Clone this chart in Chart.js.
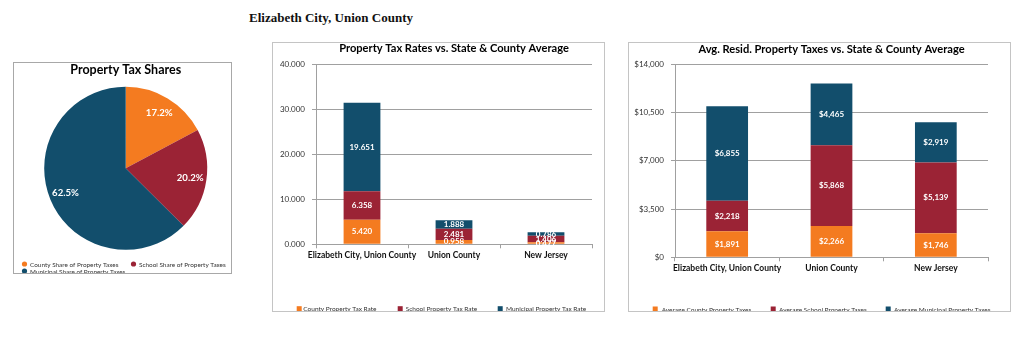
<!DOCTYPE html>
<html>
<head>
<meta charset="utf-8">
<script src="https://cdn.jsdelivr.net/npm/chart.js@4.4.1/dist/chart.umd.min.js"></script>
<style>
  body { margin: 0; background: #fff; width: 1024px; height: 338px; position: relative; overflow: hidden; font-family: Lato, sans-serif; }
  .box { position: absolute; border: 1px solid #c4c4c4; box-sizing: border-box; background: #fff; }
  .box canvas { display: block; }
  #pageTitle { position: absolute; left: 249px; top: 10px; font: bold 13px "Liberation Serif", serif; color: #111; line-height: 16px; }
</style>
</head>
<body>
<div id="pageTitle">Elizabeth City, Union County</div>
<div class="box" style="left:13px;top:62px;width:219px;height:212px;border-color:#a8a8a8"><canvas id="pieChart" width="217" height="210"></canvas></div>
<div class="box" style="left:272px;top:42px;width:333px;height:270px"><canvas id="rateChart" width="331" height="268"></canvas></div>
<div class="box" style="left:628px;top:42px;width:383px;height:270px"><canvas id="taxChart" width="381" height="268"></canvas></div>

<script>
const COLORS = ["#f47b20", "#9b2335", "#124e6c"];

// pie
const shareLabels = ["County Share of Property Taxes", "School Share of Property Taxes", "Municipal Share of Property Taxes"];
const shareValues = [17.2, 20.2, 62.5];

// bars
const places = ["Elizabeth City, Union County", "Union County", "New Jersey"];

const rateSeries = ["County Property Tax Rate", "School Property Tax Rate", "Municipal Property Tax Rate"];
const countyRate = [5.420, 0.958, 0.477];
const schoolRate = [6.358, 2.481, 1.406];
const municipalRate = [19.651, 1.888, 0.786];
const rateTicks = [0, 10, 20, 30, 40];

const taxSeries = ["Average County Property Taxes", "Average School Property Taxes", "Average Municipal Property Taxes"];
const countyTax = [1891, 2266, 1746];
const schoolTax = [2218, 5868, 5139];
const municipalTax = [6855, 4465, 2919];
const taxTicks = [0, 3500, 7000, 10500, 14000];

const fmtRate = (v) => Number(v).toFixed(3);
const fmtMoney = (v) => "$" + Number(v).toLocaleString("en-US");

// title, legend and value labels drawn per chart (kept out of chart options so nothing gets resolved as scriptable)
function makeDecor(cfg) {
  return {
    id: "decor",
    afterDatasetsDraw(chart) {
      const ctx = chart.ctx;
      const area = chart.chartArea;
      ctx.save();

      ctx.fillStyle = "#fff";
      ctx.font = `bold ${cfg.labelSize}px Lato`;
      ctx.textAlign = "center";
      ctx.textBaseline = "middle";
      chart.data.datasets.forEach((ds, i) => {
        chart.getDatasetMeta(i).data.forEach((el, j) => {
          let x, y;
          if (el.outerRadius !== undefined) {
            const a = (el.startAngle + el.endAngle) / 2;
            const r = el.outerRadius * cfg.labelRadius;
            x = el.x + Math.cos(a) * r;
            y = el.y + Math.sin(a) * r;
          } else {
            x = el.x;
            y = (el.y + el.base) / 2;
          }
          ctx.fillText(cfg.format(ds.data[j]), x, y);
        });
      });

      ctx.fillStyle = "#000";
      ctx.font = `bold ${cfg.titleSize}px Lato`;
      ctx.fillText(cfg.title, (area.left + area.right) / 2, cfg.titleY);

      ctx.font = `${cfg.legendSize}px Lato`;
      ctx.textAlign = "left";
      cfg.legend.forEach((it) => {
        ctx.fillStyle = it.color;
        if (cfg.legendShape === "circle") {
          ctx.beginPath();
          ctx.arc(it.x + 2.5, it.y, 2.6, 0, Math.PI * 2);
          ctx.fill();
        } else {
          ctx.fillRect(it.x, it.y - 2.5, 5, 5);
        }
        ctx.fillStyle = "#333";
        ctx.fillText(it.text, it.tx, it.y + 0.5);
      });
      ctx.restore();
    },
  };
}

new Chart(document.getElementById("pieChart"), {
  type: "pie",
  data: {
    labels: shareLabels,
    datasets: [{ data: shareValues, backgroundColor: COLORS, borderWidth: 0 }],
  },
  options: {
    responsive: false,
    animation: false,
    layout: { padding: { left: 30.2, right: 23.8, top: 23.8, bottom: 23.2 } },
    plugins: { legend: { display: false }, tooltip: { enabled: false } },
  },
  plugins: [makeDecor({
    title: "Property Tax Shares", titleSize: 12.5, titleY: 6.5,
    labelSize: 9.6, labelRadius: 0.8, format: (v) => v.toFixed(1) + "%",
    legendSize: 6.4, legendShape: "circle",
    legend: [
      { text: shareLabels[0], color: COLORS[0], x: 8, tx: 16, y: 201 },
      { text: shareLabels[1], color: COLORS[1], x: 117, tx: 125, y: 201 },
      { text: shareLabels[2], color: COLORS[2], x: 8, tx: 16, y: 208 },
    ],
  })],
});

function barOptions(ticks, fmt, yWidth, padding) {
  return {
    responsive: false,
    animation: false,
    layout: { padding },
    plugins: { legend: { display: false }, tooltip: { enabled: false } },
    scales: {
      x: {
        stacked: true,
        grid: { drawOnChartArea: false, tickLength: 4, color: "#a0a0a0" },
        border: { color: "#a0a0a0" },
        ticks: {
          maxRotation: 0, minRotation: 0, autoSkip: false, padding: 2,
          color: "#111", font: { family: "Lato", weight: "bold", size: 8.5 },
        },
        afterFit: (s) => { s.height = 20; },
      },
      y: {
        stacked: true,
        min: ticks[0],
        max: ticks[ticks.length - 1],
        grid: { color: "#a0a0a0", tickLength: 4 },
        border: { color: "#a0a0a0" },
        ticks: {
          stepSize: ticks[1] - ticks[0], padding: 7,
          color: "#333", font: { family: "Lato", size: 8 },
          callback: (v) => fmt(v),
        },
        afterFit: (s) => { s.width = yWidth; },
      },
    },
  };
}

function barDatasets(names, series) {
  return series.map((data, i) => ({
    label: names[i], data, backgroundColor: COLORS[i], borderWidth: 0,
    barPercentage: 0.4, categoryPercentage: 1.0,
  }));
}

new Chart(document.getElementById("rateChart"), {
  type: "bar",
  data: { labels: places, datasets: barDatasets(rateSeries, [countyRate, schoolRate, municipalRate]) },
  options: barOptions(rateTicks, fmtRate, 43, { left: 0, right: 12, top: 21, bottom: 46.7 }),
  plugins: [makeDecor({
    title: "Property Tax Rates vs. State & County Average", titleSize: 11.1, titleY: 5.5,
    labelSize: 8, format: fmtRate,
    legendSize: 6.5, legendShape: "rect",
    legend: [
      { text: rateSeries[0], color: COLORS[0], x: 23.7, tx: 30.3, y: 265.7 },
      { text: rateSeries[1], color: COLORS[1], x: 124.7, tx: 132.7, y: 265.7 },
      { text: rateSeries[2], color: COLORS[2], x: 224.7, tx: 233, y: 265.7 },
    ],
  })],
});

new Chart(document.getElementById("taxChart"), {
  type: "bar",
  data: { labels: places, datasets: barDatasets(taxSeries, [countyTax, schoolTax, municipalTax]) },
  options: barOptions(taxTicks, fmtMoney, 46, { left: 0, right: 22, top: 21.3, bottom: 33.7 }),
  plugins: [makeDecor({
    title: "Avg. Resid. Property Taxes vs. State & County Average", titleSize: 11.1, titleY: 6,
    labelSize: 8, format: fmtMoney,
    legendSize: 6.5, legendShape: "rect",
    legend: [
      { text: taxSeries[0], color: COLORS[0], x: 23.7, tx: 32.7, y: 266 },
      { text: taxSeries[1], color: COLORS[1], x: 141.7, tx: 150, y: 266 },
      { text: taxSeries[2], color: COLORS[2], x: 256.7, tx: 265, y: 266 },
    ],
  })],
});
</script>
</body>
</html>
